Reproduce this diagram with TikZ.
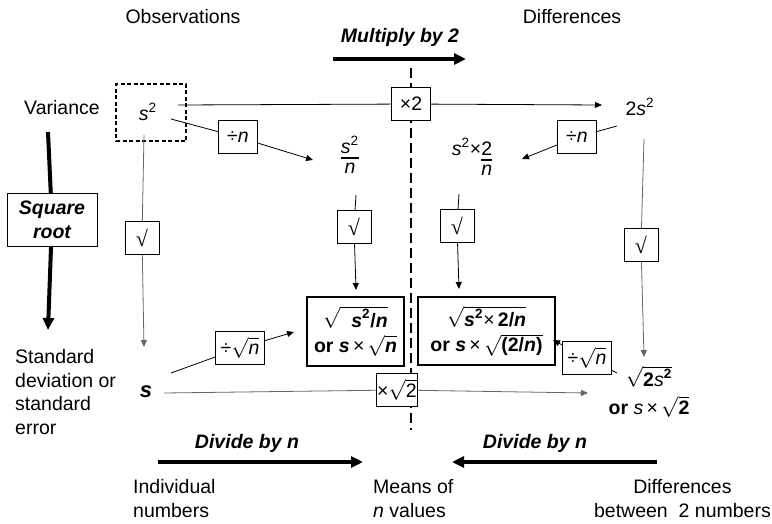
\documentclass[tikz,border=0pt]{standalone}
\usepackage{fontspec}
\setmainfont{Liberation Sans}
\newfontfamily\serifsym{Liberation Serif}
\usetikzlibrary{arrows.meta,calc}

% superscript two, sized for the body text
\newcommand\sq{\raisebox{0.8ex}{\fontsize{13.5}{13.5}\selectfont 2}\kern0.8pt}
% radical over text
\newcommand\rt[1]{$\sqrt{\hbox{#1}}$}
% stacked fraction whose first row sits on the baseline
\newcommand\vfrac[2]{{\setlength\arrayrulewidth{1.5pt}\setlength\tabcolsep{1pt}%
  \begin{tabular}[t]{@{}c@{}}#1\\[-3pt]\hline\noalign{\vskip-2pt}#2\end{tabular}}}
\newcommand\rtsym{{\serifsym\fontsize{22}{22}\selectfont √}}

\tikzset{
  base/.style={inner sep=0pt, font=\fontsize{19.5}{23.5}\selectfont},
  bi/.style={base, font=\fontsize{19.5}{23.5}\selectfont\bfseries\itshape},
  opbox/.style={base, draw, line width=0.9pt, fill=white, minimum width=39pt, minimum height=33pt},
  rootbox/.style={opbox, minimum width=34pt},
  boldbox/.style={base, draw, line width=2.6pt, fill=white, align=center,
    font=\fontsize{19.5}{25}\selectfont\bfseries},
  dashbox/.style={draw, line width=1.6pt, dash pattern=on 4pt off 2.5pt, minimum width=70pt, minimum height=57pt, inner sep=0pt},
  divider/.style={line width=1.5pt, dash pattern=on 10pt off 5pt},
  conn/.style={line width=0.8pt, -{Triangle[length=7pt,width=6pt]}},
  greyconn/.style={conn, draw=black!60},
  heavy/.style={line width=4pt, -{Triangle[length=12pt,width=11pt]}},
}

\begin{document}
\begin{tikzpicture}[x=1pt,y=-1pt]
\useasboundingbox (0,0) rectangle (772,523);

% central divider between observations and differences
\coordinate (divT) at (411,68);
\coordinate (divB) at (411,430);
\draw[divider] (divT) -- (divB);

% column headings
\node[base] (obs) at (183,17) {Observations};
\node[base] (diff) at (572,17) {Differences};
\node[bi] (mul) at (400,37) {Multiply by 2};
\coordinate (mulA) at (333,59);
\coordinate (mulB) at (466,59);
\draw[heavy] (mulA) -- (mulB);

% left margin: variance -> square root -> standard deviation
\node[base] (var) at (62,108) {Variance};
\node[base, draw, line width=0.9pt, fill=white, minimum width=90pt, minimum height=53pt,
  align=center, font=\fontsize{19.5}{24}\selectfont\bfseries\itshape] (sqroot) at (52,220) {Square\\root};
\coordinate (sqA) at (48,132);
\coordinate (sqB) at (48,330);
\draw[line width=4pt] (sqA) -- (sqroot);
\draw[heavy] (sqroot) -- (sqB);
\node[base, anchor=west, align=left] (sdlab) at (15,392) {Standard\\deviation or\\standard\\error};

% variance row
\node[dashbox] (s2box) at (151,112.5) {};
\node[base] (s2) at (148,112) {\textit{s}\sq};
\node[opbox] (x2) at (411,104) {×2};
\node[base] (twos2) at (640,107) {2\textit{s}\sq};
\coordinate (topA) at (178,105);
\coordinate (topB) at (602,105);
\draw[conn] (topA) -- (x2) -- (topB);

% divide the variance by n
\node[base] (s2n) at (350,158) {\vfrac{\textit{s}\sq}{\textit{n}}};
\node[opbox] (dnL) at (238,137) {÷\textit{n}};
\coordinate (dnLA) at (171,119);
\coordinate (dnLB) at (313,160);
\draw[conn] (dnLA) -- (dnL) -- (dnLB);

\node[base] (s2tn) at (472,160) {\textit{s}\sq×\vfrac{2}{\textit{n}}};
\node[opbox] (dnR) at (577,137) {÷\textit{n}};
\coordinate (dnRA) at (617,126);
\coordinate (dnRB) at (522,159);
\draw[conn] (dnRA) -- (dnR) -- (dnRB);

% square roots
\node[rootbox] (rtA) at (142,238) {\rtsym};
\coordinate (rtAa) at (144,135);
\coordinate (rtAb) at (144,347);
\draw[greyconn] (rtAa) -- (rtA) -- (rtAb);

\node[rootbox] (rtB) at (354,227) {\rtsym};
\coordinate (rtBa) at (356,195);
\coordinate (rtBb) at (356,290);
\draw[conn] (rtBa) -- (rtB) -- (rtBb);

\node[rootbox] (rtC) at (457,226) {\rtsym};
\coordinate (rtCa) at (459,194);
\coordinate (rtCb) at (459,289);
\draw[conn] (rtCa) -- (rtC) -- (rtCb);

\node[rootbox] (rtD) at (641,245) {\rtsym};
\coordinate (rtDa) at (644,139);
\coordinate (rtDb) at (644,357);
\draw[greyconn] (rtDa) -- (rtD) -- (rtDb);

% standard errors of means
\node[boldbox, minimum width=97pt, minimum height=69pt] (seL) at (355.5,331.5)
  {\rt{\ \ \textit{s}\sq/\textit{n}}\\or \textit{s}\,\textmd{×}\,\rt{\textit{n}}};
\node[boldbox, minimum width=137pt, minimum height=68pt] (seR) at (486.5,331)
  {\rt{\textit{s}\sq\textmd{×}\,2/\textit{n}}\\or \textit{s}\,\textmd{×}\,\rt{(2/\textit{n})}};

% standard deviation row
\node[font=\fontsize{22}{22}\selectfont\bfseries\itshape, inner sep=0pt] (sd) at (146,392) {s};
\node[opbox, minimum width=41pt] (xs2) at (397,390) {×\rt{2}};
\coordinate (sdA) at (164,393);
\coordinate (sdB) at (588,393);
\draw[greyconn] (sdA) -- (xs2) -- (sdB);

\node[opbox, minimum width=49pt] (dsL) at (240,348) {÷\rt{\textit{n}}};
\coordinate (dsLa) at (171,373);
\coordinate (dsLb) at (294,332);
\draw[conn] (dsLa) -- (dsL) -- (dsLb);

\node[opbox, minimum width=49pt] (dsR) at (587,358) {÷\rt{\textit{n}}};
\coordinate (dsRa) at (617,373);
\coordinate (dsRb) at (553,340);
\draw[conn] (dsRa) -- (dsR) -- (dsRb);

\node[base, align=center, font=\fontsize{19.5}{28}\selectfont] (sd2) at (649,392)
  {\rt{\textbf{2}\textit{s}\textbf{\sq}}\\\textbf{or} \textit{s}\,×\,\rt{\textbf{2}}};

% bottom: dividing by n
\node[bi] (divL) at (247,443) {Divide by \textit{n}};
\node[bi] (divR) at (535,443) {Divide by \textit{n}};
\coordinate (dlA) at (158,462);
\coordinate (dlB) at (363,462);
\draw[heavy] (dlA) -- (dlB);
\coordinate (drA) at (657,462);
\coordinate (drB) at (452,462);
\draw[heavy] (drA) -- (drB);

\node[base, anchor=west, align=left] (indiv) at (133,498.5) {Individual\\numbers};
\node[base, anchor=west, align=left] (means) at (373,498.5) {Means of\\\textit{n} values};
\node[base, anchor=east, align=center] (diffs) at (771,498.5) {Differences\\between\ \ 2 numbers};
\end{tikzpicture}
\end{document}
